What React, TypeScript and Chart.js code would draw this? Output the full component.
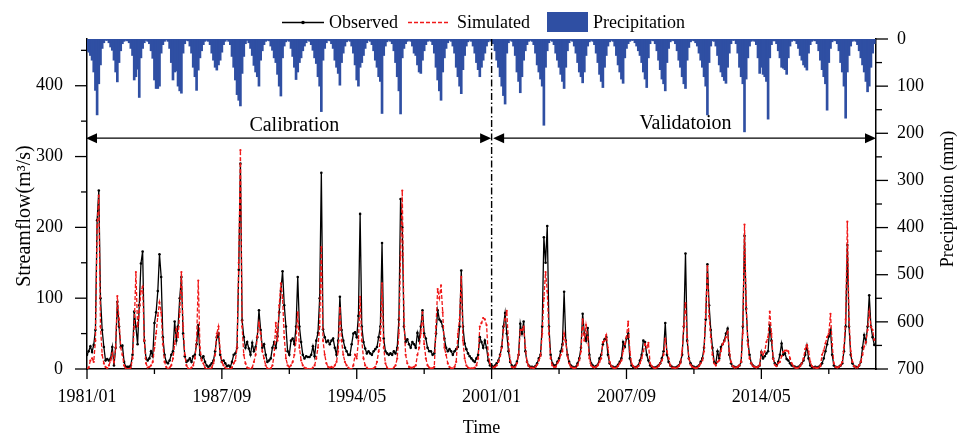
import { useEffect, useRef } from 'react';
import { Chart, registerables } from 'chart.js';

Chart.register(...registerables);

const FONT = "'Liberation Serif', 'Times New Roman', Times, serif";

// Monthly series, 1981/01 .. 2019/12 (one row per year)
const OBSERVED: number[] = [
  20, 25, 32, 24, 34, 55, 210, 252, 100, 55, 31, 12, // 1981
  14, 12, 15, 31, 5, 30, 95, 60, 31, 33, 10, 3, // 1982
  3, 3, 5, 20, 81, 60, 35, 90, 149, 166, 40, 15, // 1983
  12, 15, 25, 18, 65, 80, 110, 162, 130, 45, 20, 10, // 1984
  8, 12, 20, 25, 67, 40, 60, 100, 130, 50, 18, 10, // 1985
  12, 15, 10, 18, 20, 35, 62, 20, 15, 18, 10, 5, // 1986
  3, 5, 8, 12, 25, 45, 50, 20, 10, 12, 8, 4, // 1987
  5, 3, 10, 20, 22, 30, 140, 290, 69, 45, 30, 38, // 1988
  29, 20, 37, 25, 31, 45, 83, 55, 30, 35, 20, 10, // 1989
  12, 15, 30, 38, 30, 46, 80, 110, 138, 90, 60, 25, // 1990
  20, 40, 43, 35, 60, 130, 60, 38, 20, 15, 18, 17, // 1991
  17, 20, 32, 18, 40, 51, 100, 277, 56, 45, 38, 40, // 1992
  35, 40, 43, 30, 20, 40, 102, 55, 40, 30, 25, 20, // 1993
  20, 35, 50, 52, 45, 75, 219, 60, 38, 29, 22, 25, // 1994
  22, 20, 25, 28, 31, 45, 60, 178, 43, 25, 22, 20, // 1995
  22, 20, 25, 22, 30, 70, 240, 200, 60, 38, 42, 35, // 1996
  30, 38, 35, 30, 51, 40, 60, 83, 50, 43, 30, 25, // 1997
  25, 20, 22, 50, 83, 70, 67, 60, 43, 30, 25, 28, // 1998
  25, 20, 25, 28, 31, 60, 139, 60, 36, 28, 22, 18, // 1999
  15, 12, 10, 15, 20, 45, 38, 30, 40, 30, 12, 5, // 2000
  5, 3, 5, 8, 12, 20, 31, 60, 79, 50, 25, 10, // 2001
  5, 3, 5, 10, 20, 64, 50, 67, 25, 10, 5, 3, // 2002
  3, 2, 4, 8, 15, 20, 60, 186, 150, 202, 60, 20, // 2003
  8, 5, 5, 10, 15, 25, 35, 109, 40, 20, 10, 5, // 2004
  3, 2, 3, 8, 15, 30, 78, 50, 40, 58, 20, 8, // 2005
  5, 3, 4, 6, 15, 20, 35, 42, 45, 20, 8, 4, // 2006
  3, 2, 3, 6, 10, 15, 38, 31, 43, 50, 15, 5, // 2007
  3, 2, 3, 5, 12, 20, 40, 38, 20, 12, 5, 3, // 2008
  2, 2, 3, 5, 8, 15, 25, 65, 20, 10, 5, 3, // 2009
  2, 2, 3, 5, 10, 20, 60, 163, 40, 15, 8, 4, // 2010
  3, 2, 3, 5, 10, 15, 30, 70, 148, 90, 55, 30, // 2011
  10, 8, 25, 15, 31, 35, 40, 50, 57, 20, 8, 4, // 2012
  3, 2, 3, 5, 10, 60, 188, 85, 40, 20, 8, 5, // 2013
  3, 2, 3, 5, 24, 15, 18, 22, 25, 62, 40, 15, // 2014
  8, 5, 10, 20, 36, 20, 22, 14, 12, 8, 5, 4, // 2015
  3, 2, 3, 5, 8, 12, 20, 33, 15, 5, 3, 2, // 2016
  3, 2, 3, 5, 8, 15, 25, 35, 46, 55, 20, 5, // 2017
  3, 2, 3, 5, 8, 25, 60, 175, 60, 20, 8, 4, // 2018
  3, 2, 5, 10, 30, 48, 38, 60, 104, 60, 45, 34, // 2019
];

const SIMULATED: number[] = [
  0, 2, 12, 15, 10, 40, 200, 245, 60, 20, 8, 3, // 1981
  1, 5, 12, 22, 10, 30, 103, 70, 30, 20, 5, 1, // 1982
  0, 0, 2, 15, 60, 137, 60, 80, 110, 116, 40, 8, // 1983
  2, 3, 5, 10, 30, 50, 75, 94, 80, 35, 10, 3, // 1984
  0, 2, 5, 15, 35, 56, 45, 80, 137, 60, 20, 5, // 1985
  1, 0, 2, 5, 15, 40, 125, 30, 12, 8, 2, 0, // 1986
  0, 0, 2, 8, 20, 50, 60, 25, 10, 5, 2, 0, // 1987
  0, 0, 2, 8, 12, 30, 150, 309, 60, 20, 8, 2, // 1988
  1, 0, 2, 10, 20, 46, 65, 50, 25, 15, 5, 1, // 1989
  0, 1, 5, 20, 65, 40, 90, 121, 100, 45, 15, 5, // 1990
  3, 5, 10, 20, 40, 80, 30, 12, 5, 2, 1, 0, // 1991
  0, 0, 2, 5, 15, 30, 60, 172, 40, 20, 8, 3, // 1992
  2, 3, 2, 5, 10, 25, 86, 40, 20, 10, 5, 2, // 1993
  0, 0, 5, 20, 15, 40, 102, 40, 15, 5, 2, 0, // 1994
  0, 0, 1, 3, 10, 25, 40, 121, 30, 8, 2, 0, // 1995
  0, 0, 2, 5, 15, 50, 160, 252, 70, 20, 8, 3, // 1996
  2, 2, 3, 5, 20, 30, 50, 80, 35, 15, 5, 2, // 1997
  1, 1, 3, 60, 113, 100, 118, 80, 30, 20, 8, 3, // 1998
  1, 1, 3, 10, 50, 70, 130, 40, 15, 5, 2, 1, // 1999
  1, 1, 2, 5, 15, 60, 65, 72, 70, 62, 20, 8, // 2000
  3, 2, 3, 5, 10, 18, 30, 55, 70, 82, 35, 12, // 2001
  3, 2, 3, 8, 20, 55, 55, 60, 30, 10, 4, 2, // 2002
  2, 1, 3, 6, 12, 18, 50, 100, 137, 110, 50, 15, // 2003
  5, 3, 3, 8, 12, 20, 25, 50, 38, 18, 8, 3, // 2004
  2, 1, 2, 5, 12, 25, 70, 40, 62, 45, 15, 5, // 2005
  3, 2, 3, 5, 10, 15, 38, 40, 48, 30, 10, 4, // 2006
  2, 1, 2, 4, 8, 12, 25, 35, 45, 67, 25, 8, // 2007
  4, 2, 2, 4, 8, 15, 25, 35, 30, 37, 8, 4, // 2008
  2, 1, 2, 4, 8, 12, 20, 43, 25, 15, 5, 2, // 2009
  2, 1, 2, 4, 8, 25, 60, 93, 45, 15, 6, 3, // 2010
  2, 1, 2, 4, 8, 12, 25, 80, 145, 75, 45, 20, // 2011
  8, 5, 10, 12, 25, 35, 39, 45, 52, 25, 10, 4, // 2012
  2, 2, 3, 5, 10, 50, 204, 90, 35, 15, 8, 4, // 2013
  3, 2, 3, 5, 24, 20, 25, 38, 45, 81, 50, 15, // 2014
  6, 4, 8, 10, 18, 24, 26, 26, 25, 15, 8, 4, // 2015
  2, 1, 2, 4, 8, 15, 28, 34, 25, 10, 4, 2, // 2016
  2, 1, 2, 4, 20, 26, 36, 45, 50, 78, 35, 8, // 2017
  3, 2, 3, 5, 10, 30, 70, 208, 70, 25, 10, 4, // 2018
  2, 2, 5, 10, 20, 32, 38, 55, 81, 60, 55, 41, // 2019
];

const PRECIPITATION: number[] = [
  25, 28, 35, 45, 70, 109, 161, 95, 55, 20, 8, 3, // 1981
  3, 8, 17, 24, 45, 70, 91, 50, 25, 10, 5, 3, // 1982
  4, 8, 20, 35, 87, 80, 64, 124, 40, 20, 8, 3, // 1983
  5, 10, 25, 41, 87, 105, 105, 100, 30, 12, 5, 2, // 1984
  5, 20, 50, 87, 70, 68, 100, 110, 115, 30, 10, 3, // 1985
  4, 15, 30, 60, 80, 109, 66, 40, 25, 12, 5, 3, // 1986
  5, 12, 30, 45, 60, 66, 55, 45, 28, 12, 5, 2, // 1987
  5, 12, 37, 60, 87, 118, 130, 142, 73, 37, 10, 3, // 1988
  8, 20, 35, 56, 70, 80, 100, 45, 25, 12, 5, 3, // 1989
  4, 15, 24, 40, 50, 75, 100, 121, 40, 15, 6, 3, // 1990
  5, 20, 37, 60, 86, 70, 50, 40, 25, 15, 8, 3, // 1991
  5, 12, 24, 40, 52, 80, 100, 154, 45, 20, 8, 3, // 1992
  4, 10, 20, 45, 60, 73, 98, 50, 30, 15, 6, 3, // 1993
  5, 15, 30, 55, 87, 100, 60, 50, 35, 20, 8, 3, // 1994
  5, 12, 25, 45, 60, 80, 90, 158, 35, 15, 6, 3, // 1995
  5, 10, 25, 50, 80, 110, 159, 40, 20, 10, 5, 3, // 1996
  5, 15, 30, 35, 55, 70, 73, 45, 25, 12, 5, 3, // 1997
  5, 12, 30, 60, 87, 110, 130, 70, 40, 20, 8, 3, // 1998
  5, 15, 30, 60, 80, 100, 116, 65, 35, 15, 6, 3, // 1999
  5, 15, 30, 50, 65, 80, 60, 45, 30, 15, 6, 3, // 2000
  5, 10, 25, 45, 60, 80, 100, 120, 138, 30, 8, 3, // 2001
  5, 15, 35, 70, 90, 114, 80, 45, 25, 12, 5, 3, // 2002
  5, 12, 30, 55, 70, 85, 100, 183, 60, 25, 8, 3, // 2003
  5, 12, 30, 45, 60, 75, 90, 105, 60, 25, 8, 3, // 2004
  5, 15, 30, 50, 70, 80, 93, 70, 35, 15, 6, 3, // 2005
  5, 12, 30, 50, 75, 90, 103, 60, 35, 15, 6, 3, // 2006
  5, 15, 35, 55, 70, 85, 94, 40, 20, 10, 5, 3, // 2007
  3, 8, 15, 25, 35, 50, 70, 85, 103, 40, 10, 3, // 2008
  4, 10, 25, 45, 65, 85, 95, 110, 50, 20, 6, 3, // 2009
  4, 10, 25, 45, 60, 80, 95, 105, 45, 18, 6, 3, // 2010
  4, 8, 15, 30, 45, 60, 80, 100, 161, 50, 15, 4, // 2011
  5, 15, 35, 55, 70, 80, 88, 94, 60, 30, 10, 3, // 2012
  3, 10, 30, 60, 80, 95, 197, 85, 40, 15, 5, 3, // 2013
  5, 12, 40, 73, 60, 75, 80, 90, 170, 40, 12, 4, // 2014
  4, 10, 25, 40, 60, 62, 65, 75, 40, 15, 5, 3, // 2015
  4, 10, 20, 35, 45, 55, 60, 66, 30, 12, 5, 3, // 2016
  4, 10, 25, 45, 65, 80, 95, 151, 50, 20, 6, 3, // 2017
  4, 10, 25, 50, 70, 100, 168, 70, 35, 15, 5, 3, // 2018
  5, 12, 25, 40, 55, 70, 90, 112, 100, 60, 30, 10, // 2019
];

// Axis ticks (x in months since 1981/01)
const X_MAJOR_TICKS = [0, 80, 160, 240, 320, 400];
const X_MINOR_TICKS = [40, 120, 200, 280, 360, 440];
const X_TICK_LABELS = ['1981/01', '1987/09', '1994/05', '2001/01', '2007/09', '2014/05'];
const FLOW_MAJOR_TICKS = [0, 100, 200, 300, 400];
const FLOW_MINOR_TICKS = [50, 150, 250, 350, 450];
const PRECIP_MAJOR_TICKS = [0, 100, 200, 300, 400, 500, 600, 700];
const PRECIP_MINOR_TICKS = [50, 150, 250, 350, 450, 550, 650];

const SPLIT_MONTH = 240; // 2001/01
const PERIOD_LABELS = ['Calibration', 'Validatoion'];
const SERIES_NAMES = ['Observed', 'Simulated', 'Precipitation'];

const BLUE = '#2F4FA3';
const RED = '#F01818';

function arrowHead(ctx: CanvasRenderingContext2D, tipX: number, y: number, dir: number) {
  const len = 11;
  const half = 5;
  ctx.beginPath();
  ctx.moveTo(tipX, y);
  ctx.lineTo(tipX - dir * len, y - half);
  ctx.lineTo(tipX - dir * len, y + half);
  ctx.closePath();
  ctx.fill();
}

const decorPlugin = {
  id: 'decor',
  afterDraw(chart: any) {
    const ctx: CanvasRenderingContext2D = chart.ctx;
    const { left, right, top, bottom } = chart.chartArea;
    const xs = chart.scales.x;
    const yl = chart.scales.y;
    const yr = chart.scales.yP;
    ctx.save();
    ctx.strokeStyle = '#000';
    ctx.fillStyle = '#000';
    ctx.lineWidth = 1.3;

    const seg = (x1: number, y1: number, x2: number, y2: number) => {
      ctx.beginPath();
      ctx.moveTo(x1, y1);
      ctx.lineTo(x2, y2);
      ctx.stroke();
    };
    X_MAJOR_TICKS.forEach((v) => { const x = xs.getPixelForValue(v); seg(x, bottom, x, bottom + 10); });
    X_MINOR_TICKS.forEach((v) => { const x = xs.getPixelForValue(v); seg(x, bottom, x, bottom + 5); });
    FLOW_MAJOR_TICKS.forEach((v) => { const y = yl.getPixelForValue(v); seg(left, y, left - 12, y); });
    FLOW_MINOR_TICKS.forEach((v) => { const y = yl.getPixelForValue(v); seg(left, y, left - 6, y); });
    PRECIP_MAJOR_TICKS.forEach((v) => { const y = yr.getPixelForValue(v); seg(right, y, right + 12, y); });
    PRECIP_MINOR_TICKS.forEach((v) => { const y = yr.getPixelForValue(v); seg(right, y, right + 6, y); });

    // split line (dash-dot)
    const sx = xs.getPixelForValue(SPLIT_MONTH);
    ctx.save();
    ctx.lineWidth = 1.4;
    ctx.setLineDash([7, 2.5, 1.5, 2.5]);
    seg(sx, top, sx, bottom);
    ctx.restore();

    // period arrows
    const ay = yl.getPixelForValue(326);
    const x0 = xs.getPixelForValue(0);
    const x1 = xs.getPixelForValue(xs.max);
    ctx.lineWidth = 1.3;
    seg(x0 + 4, ay, sx - 5, ay);
    seg(sx + 5, ay, x1 - 4, ay);
    arrowHead(ctx, x0 - 1, ay, -1);
    arrowHead(ctx, sx - 0.5, ay, 1);
    arrowHead(ctx, sx + 1.5, ay, -1);
    arrowHead(ctx, x1, ay, 1);

    // period labels
    ctx.font = `20px ${FONT}`;
    ctx.textAlign = 'center';
    ctx.textBaseline = 'alphabetic';
    ctx.fillText(PERIOD_LABELS[0], xs.getPixelForValue(123), 130.5);
    ctx.fillText(PERIOD_LABELS[1], xs.getPixelForValue(355), 129);

    // axis titles
    ctx.font = `18px ${FONT}`;
    ctx.fillText('Time', (left + right) / 2, 433);
    ctx.save();
    ctx.translate(30, 216);
    ctx.rotate(-Math.PI / 2);
    ctx.font = `20px ${FONT}`;
    ctx.fillText('Streamflow(m\u00B3/s)', 0, 0);
    ctx.restore();
    ctx.save();
    ctx.translate(953, 199);
    ctx.rotate(-Math.PI / 2);
    ctx.fillText('Precipitation (mm)', 0, 0);
    ctx.restore();

    // legend
    ctx.textAlign = 'left';
    ctx.font = `18px ${FONT}`;
    const ly = 22.5;
    ctx.lineWidth = 1.3;
    seg(282, ly, 324, ly);
    ctx.beginPath();
    ctx.arc(303, ly, 1.8, 0, Math.PI * 2);
    ctx.fill();
    ctx.fillText(SERIES_NAMES[0], 329, 28);
    ctx.save();
    ctx.strokeStyle = RED;
    ctx.setLineDash([4, 2]);
    seg(408, ly, 449, ly);
    ctx.restore();
    ctx.fillText(SERIES_NAMES[1], 457, 28);
    ctx.fillStyle = BLUE;
    ctx.fillRect(547, 12, 41, 20);
    ctx.fillStyle = '#000';
    ctx.fillText(SERIES_NAMES[2], 593, 28);

    ctx.restore();
  },
};

export default function App() {
  const ref = useRef<HTMLCanvasElement | null>(null);

  useEffect(() => {
    if (!ref.current) return;
    const toPts = (arr: number[]) => arr.map((v, i) => ({ x: i, y: v }));
    const tickFont = { family: FONT, size: 18 };
    const chart = new Chart(ref.current, {
      type: 'line',
      data: {
        datasets: [
          {
            type: 'line',
            label: SERIES_NAMES[1],
            data: toPts(SIMULATED),
            yAxisID: 'y',
            borderColor: RED,
            backgroundColor: RED,
            borderWidth: 1.3,
            borderDash: [4, 2],
            pointRadius: 1.1,
            pointBorderWidth: 0,
            pointBackgroundColor: RED,
            tension: 0,
            order: 1,
          },
          {
            type: 'line',
            label: SERIES_NAMES[0],
            data: toPts(OBSERVED),
            yAxisID: 'y',
            borderColor: '#000',
            backgroundColor: '#000',
            borderWidth: 1.3,
            pointRadius: 1.3,
            pointBorderWidth: 0,
            pointBackgroundColor: '#000',
            tension: 0,
            order: 2,
          },
          {
            type: 'bar',
            label: SERIES_NAMES[2],
            data: toPts(PRECIPITATION),
            yAxisID: 'yP',
            backgroundColor: BLUE,
            borderWidth: 0,
            barThickness: 2,
            order: 3,
          },
        ],
      } as any,
      options: {
        animation: false,
        responsive: false,
        devicePixelRatio: 1,
        events: [],
        layout: { padding: { top: 39, left: 0, right: 0, bottom: 0 } },
        plugins: { legend: { display: false }, tooltip: { enabled: false } },
        scales: {
          x: {
            type: 'linear',
            position: 'bottom',
            min: 0,
            max: 468,
            offset: false,
            grid: { display: false, drawTicks: false },
            border: { display: true, color: '#000', width: 1.5 },
            ticks: {
              autoSkip: false,
              maxRotation: 0,
              minRotation: 0,
              padding: 17,
              color: '#000',
              font: tickFont,
              callback: (v: any) => {
                const i = X_MAJOR_TICKS.indexOf(Number(v));
                return i >= 0 ? X_TICK_LABELS[i] : '';
              },
            },
            afterBuildTicks: (s: any) => { s.ticks = X_MAJOR_TICKS.map((v) => ({ value: v })); },
            afterFit: (s: any) => { s.height = 68; },
          },
          y: {
            type: 'linear',
            position: 'left',
            min: 0,
            max: 466,
            grid: { display: false, drawTicks: false },
            border: { display: true, color: '#000', width: 1.5 },
            ticks: { padding: 24, color: '#000', font: tickFont },
            afterBuildTicks: (s: any) => { s.ticks = FLOW_MAJOR_TICKS.map((v) => ({ value: v })); },
            afterFit: (s: any) => { s.width = 87; },
          },
          yP: {
            type: 'linear',
            position: 'right',
            reverse: true,
            min: 0,
            max: 700,
            grid: { display: false, drawTicks: false, drawOnChartArea: false },
            border: { display: true, color: '#000', width: 1.5 },
            ticks: { padding: 21, color: '#000', font: tickFont },
            afterBuildTicks: (s: any) => { s.ticks = PRECIP_MAJOR_TICKS.map((v) => ({ value: v })); },
            afterFit: (s: any) => { s.width = 81; },
          },
        },
      } as any,
      plugins: [decorPlugin],
    });
    return () => chart.destroy();
  }, []);

  return (
    <div style={{ position: 'fixed', left: 0, top: 0, width: 957, height: 437, background: '#fff' }}>
      <canvas ref={ref} width={957} height={437} style={{ width: 957, height: 437, display: 'block' }} />
    </div>
  );
}
